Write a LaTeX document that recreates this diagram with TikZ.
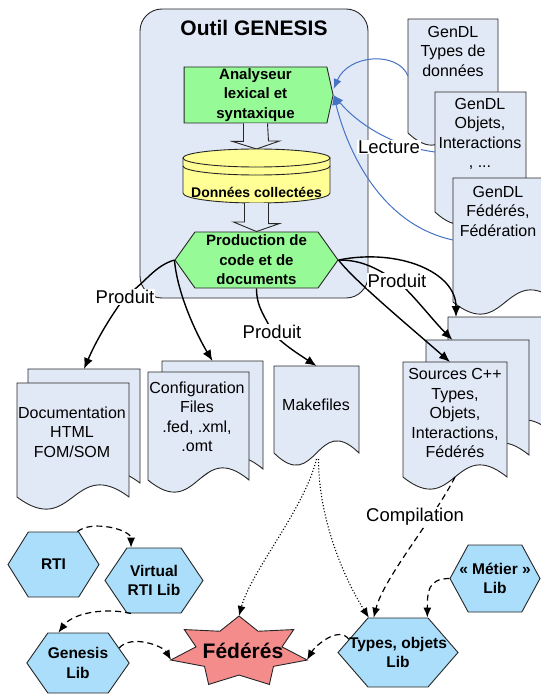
\documentclass[tikz,border=0pt]{standalone}
\usepackage{fontspec}
\setmainfont{Liberation Sans}
\usetikzlibrary{arrows.meta,shapes.symbols}

\definecolor{sheetbg}{RGB}{226,233,246}
\definecolor{toolgreen}{RGB}{150,250,150}
\definecolor{dbyellow}{RGB}{255,255,150}
\definecolor{libblue}{RGB}{170,222,250}
\definecolor{fedred}{RGB}{245,140,140}
\definecolor{readblue}{RGB}{70,114,196}

\tikzset{
  sheet/.style={draw=black!85, fill=sheetbg, line width=0.9pt},
  doctext/.style={align=center, font=\fontsize{16}{19.5}\selectfont},
  tool/.style={signal, signal from=nowhere, draw=black!85, fill=toolgreen, line width=0.9pt,
    align=center, inner sep=0pt, font=\bfseries\fontsize{15}{19.5}\selectfont},
  lib/.style={signal, signal to=east and west, signal from=nowhere, draw=black!85, fill=libblue,
    line width=0.9pt, align=center, inner sep=0pt, font=\bfseries\fontsize{15.5}{19.5}\selectfont},
  produit/.style={draw=black, line width=1.4pt, -{Latex[length=11pt,width=9pt]}},
  lecture/.style={draw=readblue, line width=1pt, -{Latex[length=10pt,width=8pt]}},
  dep/.style={draw=black, line width=1.2pt, dash pattern=on 6pt off 4pt, -{Latex[length=10pt,width=8pt]}},
  dotarrow/.style={draw=black, line width=1.1pt, dotted, -{Latex[length=10pt,width=8pt]}},
  lbl/.style={fill=white, inner sep=1pt, font=\fontsize{18.5}{20}\selectfont},
}

% document sheet with wavy bottom: name, x, y, width, height
\newcommand{\docsheet}[5]{%
  \node[inner sep=0pt, outer sep=0pt, minimum width=#4pt, minimum height=#5pt, anchor=north west] (#1) at (#2,#3) {};
  \draw[sheet] (#1.north west) -- (#1.north east) -- (#1.south east)
    .. controls +(-#4/2,-42) and +(#4/2,42) .. (#1.south west) -- cycle;
}

\begin{document}
\begin{tikzpicture}[x=1pt, y=-1pt]
  \useasboundingbox (0,0) rectangle (540,695);

  % the tool
  \draw[sheet, rounded corners=22pt] (140,9) rectangle (368,298);
  \node[font=\bfseries\fontsize{21}{24}\selectfont] (title) at (254,28) {Outil GENESIS};

  \node[tool, signal to=east, signal pointer angle=155, minimum width=149pt, minimum height=56pt]
    (ana) at (255.5,95) {Analyseur\\lexical et\\syntaxique};

  \coordinate (dbtop) at (256.5,149);
  \coordinate (dbbot) at (256.5,203);
  \draw[sheet] ([xshift=-12pt]ana.south) -- ++(0,18) -- ++(-11,0) -- (dbtop) -- ++(23,-8) -- ++(-11,0) -- ([xshift=12pt]ana.south);

  \draw[draw=black!85, fill=dbyellow, line width=0.9pt] (183,158) -- (183,193)
    arc[start angle=180, end angle=0, x radius=73.5, y radius=10] -- (330,158) -- cycle;
  \draw[draw=black!85, fill=dbyellow, line width=0.9pt] (256.5,158) ellipse[x radius=73.5, y radius=9];
  \draw[draw=black!85, line width=0.9pt] (183,166) arc[start angle=180, end angle=0, x radius=73.5, y radius=9];
  \node[font=\bfseries\fontsize{14}{16}\selectfont] (db) at (256.5,192) {Données collectées};

  \node[tool, signal to=east and west, signal pointer angle=109, minimum width=163pt, minimum height=56pt]
    (prod) at (256.5,260) {Production de\\code et de\\documents};
  \draw[sheet] ([xshift=-12pt]dbbot) -- ++(0,19) -- ++(-11,0) -- (prod.north) -- ++(23,-8) -- ++(-11,0) -- ([xshift=12pt]dbbot);

  % GenDL inputs
  \docsheet{gdA}{408}{19}{90}{114}
  \node[doctext] (gdAtxt) at (453,51) {GenDL\\Types de\\données};
  \docsheet{gdB}{435}{92}{91}{120}
  \node[doctext] (gdBtxt) at (480,134) {GenDL\\Objets,\\Interactions\\, ...};
  \docsheet{gdC}{453}{178}{105}{124}
  \node[doctext] (gdCtxt) at (498,211) {GenDL\\Fédérés,\\Fédération};

  % produced files
  \docsheet{docAb}{28}{369}{112}{114}
  \docsheet{docAf}{17}{383}{112}{114}
  \node[doctext] (docAtxt) at (72,432) {Documentation\\HTML\\FOM/SOM};
  \docsheet{docBb}{162}{361}{101}{108}
  \docsheet{docBf}{148}{372}{101}{108}
  \node[doctext] (docBtxt) at (197,417) {Configuration\\Files\\.fed, .xml,\\.omt};
  \docsheet{mk}{274}{366}{85}{87}
  \node[doctext] (mktxt) at (316,405) {Makefiles};
  \docsheet{srcC}{448}{317}{104}{115}
  \docsheet{srcB}{426}{340}{103}{115}
  \docsheet{srcA}{403}{362}{104}{115}
  \node[doctext] (srctxt) at (455,413) {Sources C++\\Types,\\Objets,\\Interactions,\\Fédérés};

  % lecture
  \draw[lecture] (gdA.west) .. controls +(-10,-25) and +(15,-35) .. ([yshift=6pt]ana.east);
  \draw[lecture] (gdB.west) .. controls +(-40,-5) and +(25,30) .. (ana.east);
  \draw[lecture] (gdC.west) .. controls +(-70,-15) and +(15,60) .. (ana.east);
  \node[lbl] (lecture) at (389,147) {Lecture};

  % produit
  \coordinate (pL) at (125,297);
  \coordinate (pM) at (272,332);
  \coordinate (pR) at (397,281);
  \draw[produit] (prod.west) .. controls +(-20,6) and +(22,-16) .. (pL) .. controls +(-15,20) and +(12,-28) .. (docAb.north);
  \draw[produit] (prod.west) .. controls +(3,35) and +(-15,-25) .. (docBb.north);
  \draw[produit] (prod.south) .. controls +(0,20) and +(-6,-15) .. (pM) .. controls +(10,12) and +(-15,-10) .. (mk.north);
  \draw[produit] (prod.east) .. controls +(15,20) and +(-40,-35) .. ([xshift=-5pt]srcA.north);
  \draw[produit] (prod.east) .. controls +(25,0) and +(-20,-12) .. (pR) .. controls +(15,12) and +(-20,-20) .. ([xshift=-25pt]srcB.north);
  \draw[produit] (prod.east) .. controls +(60,-12) and +(0,-45) .. ([xshift=-44pt]srcC.north);
  \node[lbl] (lblL) at (pL) {Produit};
  \node[lbl] (lblM) at (pM) {Produit};
  \node[lbl] (lblR) at (pR) {Produit};

  % libraries
  \node[lib, signal pointer angle=116, minimum width=91pt, minimum height=65pt] (rti) at (53.5,564.5) {RTI};
  \node[lib, signal pointer angle=112, minimum width=98pt, minimum height=65pt] (virt) at (154,580.5) {Virtual\\RTI Lib};
  \node[lib, signal pointer angle=110, minimum width=98pt, minimum height=60pt] (gen) at (78,663) {Genesis\\Lib};
  \node[lib, signal pointer angle=98, minimum width=120pt, minimum height=69pt] (types) at (398,652.5)
    {\makebox[56pt]{Types, objets}\\Lib};
  \node[lib, signal pointer angle=123, minimum width=90pt, minimum height=67pt] (metier) at (495,578.5)
    {\makebox[50pt]{« Métier »}\\Lib};

  \draw[draw=black!85, fill=fedred, line width=0.9pt] plot[samples at={0,...,13}]
    ({239+(1-0.37*mod(\x,2))*70*cos(90+\x*360/14)}, {652-(1-0.36*mod(\x,2))*36*sin(90+\x*360/14)}) -- cycle;
  \coordinate (fedT) at (239,616);
  \coordinate (fedL) at (171,660);
  \coordinate (fedR) at (307,660);
  \node[font=\bfseries\fontsize{21}{24}\selectfont] (fed) at (243,651) {Fédérés};

  % dependencies
  \draw[dep] (rti.54) .. controls +(15,-12) and +(0,-18) .. (virt.125);
  \draw[dep] (virt.235) .. controls +(-25,-6) and +(15,-20) .. (gen.123);
  \draw[dep] (gen.20) .. controls +(12,-14) and +(-8,-14) .. (fedL);
  \draw[dep] (types.165) .. controls +(-10,-14) and +(8,-14) .. (fedR);
  \draw[dep] (metier.west) .. controls +(-22,0) and +(0,-25) .. (types.50);
  \draw[dep] (srcA.south) .. controls +(-20,40) and +(10,-40) .. (types.125);
  \draw[dotarrow] ([yshift=-6pt]mk.south) .. controls +(-12,50) and +(12,-45) .. (fedT);
  \draw[dotarrow] ([xshift=2pt,yshift=-6pt]mk.south) .. controls +(0,60) and +(-25,-40) .. (types.130);
  \node[lbl] (compil) at (415,517) {Compilation};
\end{tikzpicture}
\end{document}
